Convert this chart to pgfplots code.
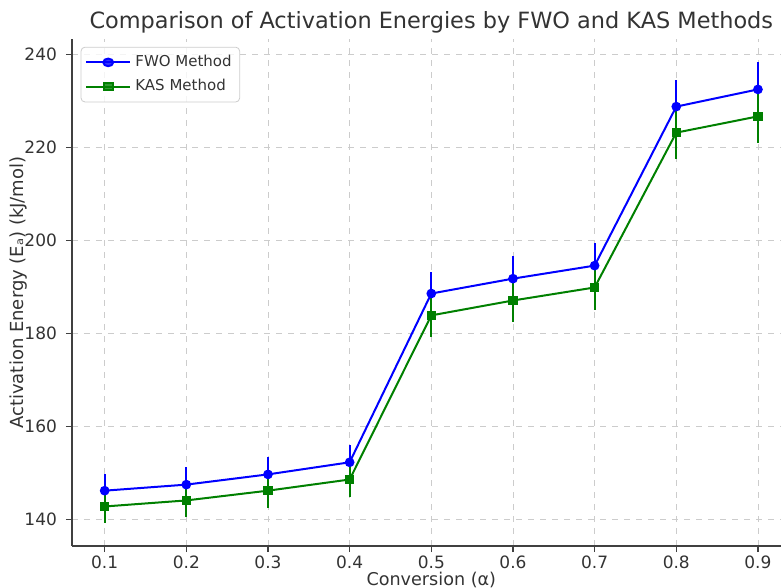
\documentclass[border=0pt]{standalone}
\usepackage{pgfplots}
\pgfplotsset{compat=1.18}
\usepackage{fontspec}
\setmainfont{DejaVu Sans}
\definecolor{txt}{HTML}{333333}
\definecolor{fwo}{RGB}{0,0,255}
\definecolor{kas}{RGB}{0,128,0}
\begin{document}
\begin{tikzpicture}
\begin{axis}[
  scale only axis,
  width=359.3pt, height=253.4pt,
  xmin=0.06, xmax=0.94, ymin=134.3, ymax=243.3,
  axis x line*=bottom, axis y line*=left,
  axis line style={black!75, line width=0.6pt},
  tick style={black!75, line width=0.6pt},
  tick align=outside,
  major tick length=3pt,
  xtick={0.1,0.2,...,0.9},
  ytick={140,160,...,240},
  xticklabel style={yshift=1.8pt, /pgf/number format/.cd, fixed, fixed zerofill, precision=1},
  yticklabel style={xshift=-1pt},
  /pgf/number format/assume math mode=true,
  ticklabel style={font=\fontsize{8.5}{10}\selectfont, text=txt},
  grid=major,
  grid style={dashed, black!20, line width=0.4pt},
  title={Comparison of Activation Energies by FWO and KAS Methods},
  title style={font=\fontsize{11.2}{13}\selectfont, text=txt, at={(0.5,1)}, yshift=-6.5pt},
  xlabel={Conversion (α)},
  ylabel={Activation Energy (Eₐ) (kJ/mol)},
  label style={text=txt},
  xlabel style={font=\fontsize{8.8}{10}\selectfont, yshift=5.2pt},
  ylabel style={font=\fontsize{9}{10}\selectfont, yshift=-8pt},
  legend style={at={(0.012,0.985)}, anchor=north west, font=\fontsize{7.5}{9}\selectfont, text=txt,
    draw=black!20, rounded corners=2pt, fill=white, fill opacity=0.8, text opacity=1,
    row sep=1pt, inner sep=2pt},
  legend image post style={xscale=1.3},
  legend cell align=left,
  clip=false,
]
\addplot+[fwo, line width=1pt, mark=*, mark size=1.9pt, mark options={fill=fwo, draw=fwo},
  error bars/.cd, y dir=both, y explicit, error bar style={line width=1pt, fwo}, error mark=none]
  coordinates {
  (0.1,146.2) +- (0,3.66)
  (0.2,147.5) +- (0,3.69)
  (0.3,149.7) +- (0,3.74)
  (0.4,152.3) +- (0,3.81)
  (0.5,188.6) +- (0,4.72)
  (0.6,191.8) +- (0,4.80)
  (0.7,194.6) +- (0,4.87)
  (0.8,228.8) +- (0,5.72)
  (0.9,232.5) +- (0,5.81)
  };
\addlegendentry{FWO Method}
\addplot+[kas, line width=1pt, mark=square*, mark size=1.8pt, mark options={fill=kas, draw=kas},
  error bars/.cd, y dir=both, y explicit, error bar style={line width=1pt, kas}, error mark=none]
  coordinates {
  (0.1,142.8) +- (0,3.57)
  (0.2,144.1) +- (0,3.60)
  (0.3,146.2) +- (0,3.66)
  (0.4,148.6) +- (0,3.72)
  (0.5,183.9) +- (0,4.60)
  (0.6,187.1) +- (0,4.68)
  (0.7,189.9) +- (0,4.75)
  (0.8,223.2) +- (0,5.58)
  (0.9,226.7) +- (0,5.67)
  };
\addlegendentry{KAS Method}
\end{axis}
\pgfresetboundingbox
\path[use as bounding box] (-36pt,-21pt) rectangle (354.5pt,273pt);
\end{tikzpicture}
\end{document}
